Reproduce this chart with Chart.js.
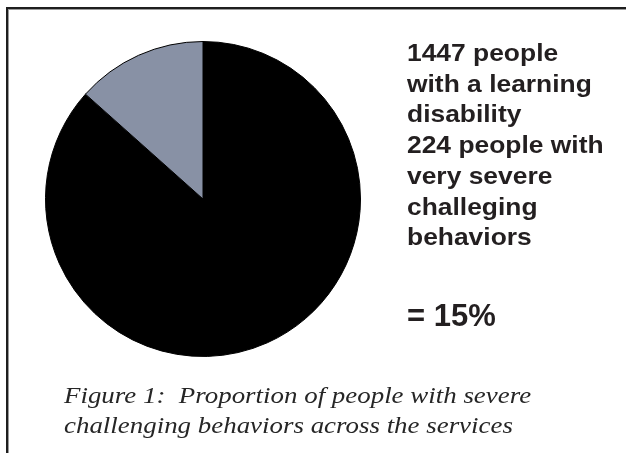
<!DOCTYPE html>
<html>
<head>
<meta charset="utf-8">
<script src="https://cdn.jsdelivr.net/npm/chart.js@4/dist/chart.umd.min.js"></script>
<style>
  html, body { margin: 0; padding: 0; background: #ffffff; }
  canvas { display: block; }
  .pre { position: absolute; left: -9999px; top: 0; }
</style>
</head>
<body>
<span class="pre" style="font: bold 24px 'Liberation Sans'">1447 people</span>
<span class="pre" style="font: italic 22px 'Liberation Serif'">Figure 1</span>
<canvas id="c" width="626" height="453"></canvas>
<script>
// ---- data ----
const categories = ['People with a learning disability', 'People with very severe challenging behaviors'];
const values = [1447, 224];
const sliceColors = ['#000000', '#8891a5'];
const noteLines = ['1447 people', 'with a learning', 'disability', '224 people with', 'very severe', 'challeging', 'behaviors'];
const resultText = '= 15%';
const captionLines = ['Figure 1:  Proportion of people with severe', 'challenging behaviors across the services'];

const SANS = '"Liberation Sans", Arimo, Arial, Helvetica, sans-serif';
const SERIF = '"Liberation Serif", Tinos, "Times New Roman", Times, serif';

const decor = {
  id: 'decor',
  beforeDraw(chart) {
    const ctx = chart.ctx;
    ctx.save();
    ctx.fillStyle = '#ffffff';
    ctx.fillRect(0, 0, chart.width, chart.height);
    ctx.fillStyle = '#1e1e1e';
    ctx.fillRect(6, 7, chart.width - 6, 2);
    ctx.fillRect(6, 7, 2, chart.height - 7);
    ctx.fillStyle = '#9a9a9a';
    ctx.fillRect(8, 9, chart.width - 8, 1);
    ctx.fillRect(8, 9, 1, chart.height - 9);
    ctx.restore();
  },
  afterDraw(chart) {
    const ctx = chart.ctx;
    ctx.save();
    ctx.fillStyle = '#231f20';
    ctx.textBaseline = 'alphabetic';
    ctx.textAlign = 'left';
    ctx.font = 'bold 24px ' + SANS;
    noteLines.forEach((t, i) => {
      ctx.save();
      ctx.translate(407, 61 + i * 30.7);
      ctx.scale(1.1, 1);
      ctx.fillText(t, 0, 0);
      ctx.restore();
    });
    ctx.font = 'bold 31px ' + SANS;
    ctx.fillText(resultText, 407, 326);
    ctx.fillStyle = '#262626';
    ctx.font = 'italic 23px ' + SERIF;
    captionLines.forEach((t, i) => {
      ctx.save();
      ctx.translate(64, 403 + i * 30);
      ctx.scale(1.17, 1);
      ctx.fillText(t, 0, 0);
      ctx.restore();
    });
    ctx.restore();
  }
};

function build() {
  new Chart(document.getElementById('c'), {
    type: 'pie',
    data: {
      labels: categories,
      datasets: [{
        data: values,
        backgroundColor: sliceColors,
        borderColor: '#000000',
        borderWidth: 1
      }]
    },
    options: {
      responsive: false,
      animation: false,
      devicePixelRatio: 1,
      layout: { padding: { left: 45, top: 41, right: 265, bottom: 96 } },
      plugins: {
        legend: { display: false },
        tooltip: { enabled: false },
        title: { display: false }
      }
    },
    plugins: [decor]
  });
}

Promise.all([
  document.fonts.load('bold 24px "Liberation Sans"'),
  document.fonts.load('bold 31px "Liberation Sans"'),
  document.fonts.load('italic 23px "Liberation Serif"')
]).then(build, build);
</script>
</body>
</html>
